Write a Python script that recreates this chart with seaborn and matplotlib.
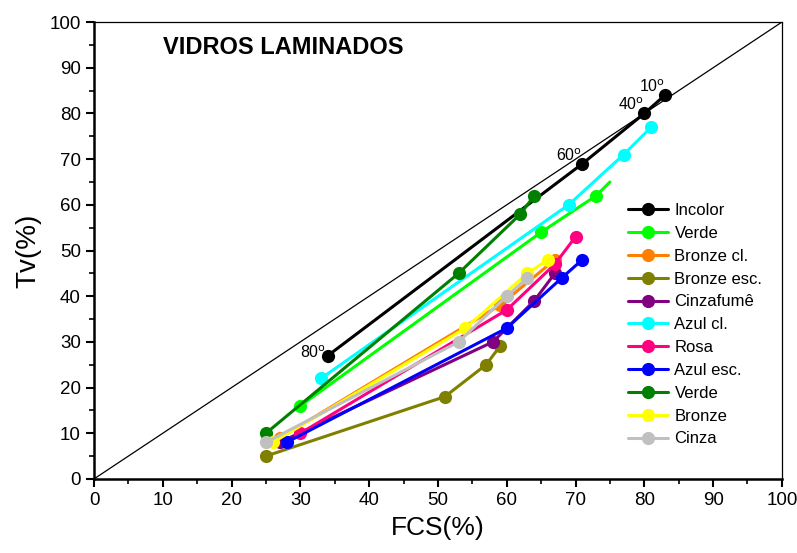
import numpy as np
import pandas as pd
import seaborn as sns
import matplotlib.pyplot as plt
from matplotlib.ticker import MultipleLocator

# FCS(%) x Tv(%) for each laminated glass
incolor_x = [34, 71, 80, 83]
incolor_y = [27, 69, 80, 84]
verde_x = [30, 65, 73, 75]
verde_y = [16, 54, 62, 65]
bronze_cl_x = [27, 59, 67]
bronze_cl_y = [9, 38, 48]
bronze_esc_x = [25, 51, 57, 59]
bronze_esc_y = [5, 18, 25, 29]
cinzafume_x = [27, 58, 64, 67]
cinzafume_y = [8, 30, 39, 45]
azul_cl_x = [33, 69, 77, 81]
azul_cl_y = [22, 60, 71, 77]
rosa_x = [30, 60, 67, 70]
rosa_y = [10, 37, 47, 53]
azul_esc_x = [28, 60, 68, 71]
azul_esc_y = [8, 33, 44, 48]
verde_esc_x = [25, 53, 62, 64]
verde_esc_y = [10, 45, 58, 62]
bronze_x = [26, 54, 63, 66]
bronze_y = [8, 33, 45, 48]
cinza_x = [25, 53, 60, 63]
cinza_y = [8, 30, 40, 44]

names = ["Incolor", "Verde", "Bronze cl.", "Bronze esc.", "Cinzafumê", "Azul cl.",
         "Rosa", "Azul esc.", "Verde", "Bronze", "Cinza"]
xs = [incolor_x, verde_x, bronze_cl_x, bronze_esc_x, cinzafume_x, azul_cl_x,
      rosa_x, azul_esc_x, verde_esc_x, bronze_x, cinza_x]
ys = [incolor_y, verde_y, bronze_cl_y, bronze_esc_y, cinzafume_y, azul_cl_y,
      rosa_y, azul_esc_y, verde_esc_y, bronze_y, cinza_y]
colors = ["#000000", "#00FF00", "#FF8000", "#808000", "#800080", "#00FFFF",
          "#FF0080", "#0000FF", "#008000", "#FFFF00", "#C0C0C0"]

# incidence angles marked on the clear glass curve
angle_labels = ["80", "60", "40", "10"]

sns.set_style("ticks")
plt.rcParams['font.family'] = ['Liberation Sans', 'DejaVu Sans']
plt.rcParams['text.color'] = 'black'
plt.rcParams['axes.labelcolor'] = 'black'

fig = plt.figure(figsize=(7.97, 5.53), dpi=100)
ax = fig.add_axes([0.118, 0.134, 0.863, 0.826])

# reference diagonal Tv = FCS
ax.plot([0, 100], [0, 100], color="black", lw=0.9, zorder=1)

for i in range(len(names)):
    df = pd.DataFrame({"FCS": xs[i], "Tv": ys[i]})
    # the light green curve has a tail segment without a marker
    mk = [0, 1, 2] if i == 1 else list(range(len(xs[i])))
    sns.lineplot(data=df, x="FCS", y="Tv", ax=ax, sort=False, estimator=None,
                 color=colors[i], label=names[i], marker="o", markersize=9.5,
                 markeredgewidth=0, lw=2.2, markevery=mk)

for k, lab in enumerate(angle_labels):
    ax.annotate(lab + r"$^{\mathrm{o}}$", (incolor_x[k], incolor_y[k]),
                xytext=(-20 if k == 0 else -19, 2 if k == 0 else 6),
                textcoords="offset points", fontsize=11.5, ha="left", va="center")

ax.text(10, 94.5, "VIDROS LAMINADOS", fontsize=17, fontweight="bold", va="center")

ax.set_xlim(0, 100)
ax.set_ylim(0, 100)
ax.xaxis.set_major_locator(MultipleLocator(10))
ax.yaxis.set_major_locator(MultipleLocator(10))
ax.xaxis.set_minor_locator(MultipleLocator(5))
ax.yaxis.set_minor_locator(MultipleLocator(5))
ax.tick_params(which="major", direction="out", length=6, width=1.5, labelsize=13.5,
               colors="black", top=False, right=False)
ax.tick_params(which="minor", direction="out", length=3.5, width=1.2,
               colors="black", top=False, right=False)
for s in ["left", "bottom"]:
    ax.spines[s].set_linewidth(1.8)
for s in ["top", "right"]:
    ax.spines[s].set_linewidth(0.9)
for s in ax.spines.values():
    s.set_color("black")

ax.set_xlabel("FCS(%)", fontsize=19, labelpad=5)
ax.set_ylabel("Tv(%)", fontsize=20, labelpad=6)

leg = ax.legend(loc="upper left", bbox_to_anchor=(0.776, 0.604), frameon=False,
                fontsize=12, handlelength=2.4, labelspacing=0.47, handletextpad=0.4,
                borderaxespad=0, borderpad=0)
for t in leg.get_texts():
    t.set_color("black")

fig.savefig("out.png", dpi=100)
